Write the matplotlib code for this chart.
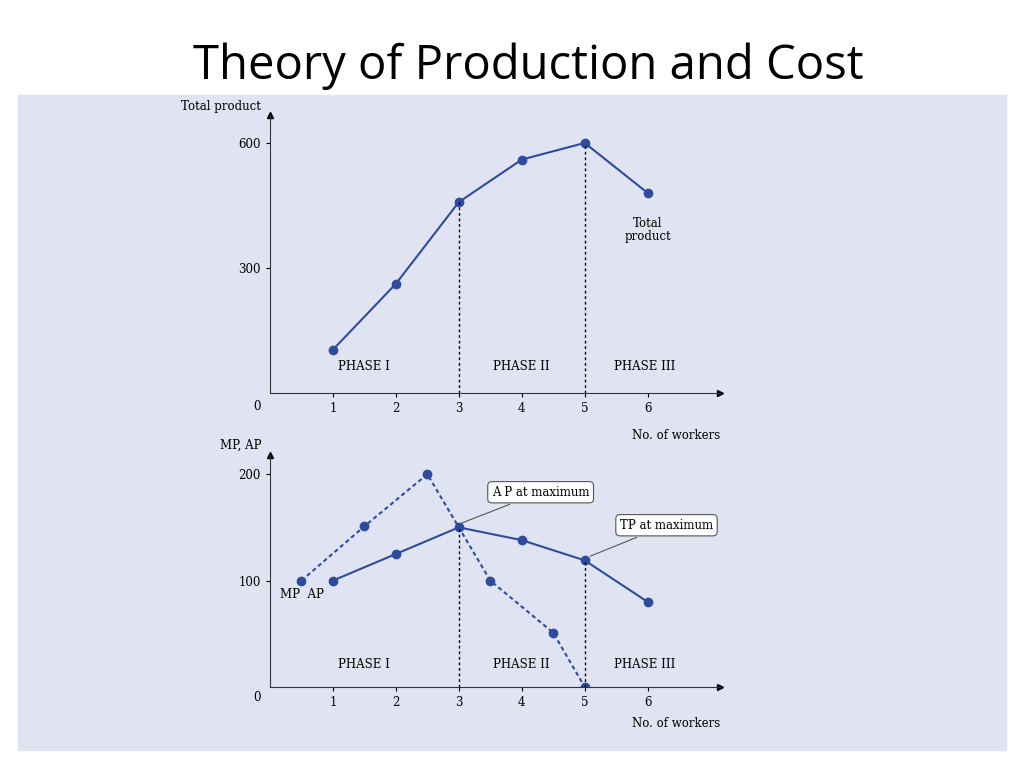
import matplotlib
matplotlib.use("Agg")
import matplotlib.pyplot as plt
from matplotlib.patches import Rectangle

workers = [1, 2, 3, 4, 5, 6]
total_product = [104, 262, 458, 560, 600, 480]
mp_x = [0.5, 1.5, 2.5, 3.5, 4.5, 5]
mp = [100, 151, 200, 100, 51, 0]
ap = [100, 125, 150, 138, 119, 80]
phases = ["PHASE I", "PHASE II", "PHASE III"]

W, H = 1024, 768
fig = plt.figure(figsize=(W/100, H/100), dpi=100)
fig.patches.append(Rectangle((18/W, 1-750/H), 988/W, 655/H, transform=fig.transFigure,
                             color="#e0e3f1", zorder=-10))
fig.text(528/W, 1-66/H, "Theory of Production and Cost", ha="center", va="center",
         fontsize=34, family="Open Sans")

col = "#2f4b9c"
fs = 8.5
ff = "DejaVu Serif"

def mkax(bottom_px, top_px, ymax):
    ax = fig.add_axes([270/W, 1-bottom_px/H, 450/W, (bottom_px-top_px)/H])
    ax.set_facecolor("none")
    ax.set_xlim(0, 7.15)
    ax.set_ylim(0, ymax)
    for s in ["top", "right"]:
        ax.spines[s].set_visible(False)
    for s in ["left", "bottom"]:
        ax.spines[s].set_color("#333333")
    ax.plot(1, 0, ">k", transform=ax.transAxes, clip_on=False, ms=5)
    ax.plot(0, 1, "^k", transform=ax.transAxes, clip_on=False, ms=5)
    ax.set_xticks(workers)
    ax.set_xticklabels([str(w) for w in workers], family=ff, fontsize=fs)
    ax.tick_params(direction="out", length=3, labelsize=fs)
    ax.text(-0.02, -0.06, "0", transform=ax.transAxes, family=ff, fontsize=fs, ha="right")
    ax.text(1.0, -0.13, "No. of workers", transform=ax.transAxes, family=ff,
            fontsize=fs, ha="right", va="top")
    return ax

ax1 = mkax(393, 115, 667)
ax1.set_yticks([300, 600])
ax1.set_yticklabels(["300", "600"], family=ff, fontsize=fs)
ax1.plot(workers, total_product, "-o", color=col, ms=6, lw=1.5)
for xv, yv in [(3, 458), (5, 600)]:
    ax1.plot([xv, xv], [0, yv], ls=(0, (2, 2)), color="black", lw=1)
ax1.text(-0.02, 1.03, "Total product", transform=ax1.transAxes, family=ff,
         fontsize=fs, ha="right", va="center")
ax1.text(6, 390, "Total\nproduct", family=ff, fontsize=fs, ha="center", va="center",
         linespacing=1.0)
for xp, lab in zip([1.5, 4.0, 5.95], phases):
    ax1.text(xp, 55, lab, family=ff, fontsize=fs, ha="center")

ax2 = mkax(687, 455, 218)
ax2.set_yticks([100, 200])
ax2.set_yticklabels(["100", "200"], family=ff, fontsize=fs)
ax2.plot(mp_x, mp, "--o", color=col, ms=6, lw=1.5, dashes=(2, 1.5))
ax2.plot(workers, ap, "-o", color=col, ms=6, lw=1.5)
for xv, yv in [(3, 150), (5, 119)]:
    ax2.plot([xv, xv], [0, yv], ls=(0, (2, 2)), color="black", lw=1)
ax2.text(-0.02, 1.04, "MP, AP", transform=ax2.transAxes, family=ff,
         fontsize=fs, ha="right", va="center")
ax2.text(0.5, 87, "MP  AP", family=ff, fontsize=fs, ha="center", va="center")
for xp, lab in zip([1.5, 4.0, 5.95], phases):
    ax2.text(xp, 18, lab, family=ff, fontsize=fs, ha="center")
bbox = dict(boxstyle="round,pad=0.35", fc="white", ec="#555555", lw=0.8)
ax2.annotate("A P at maximum", xy=(3, 153), xytext=(4.3, 183), family=ff, fontsize=fs,
             ha="center", va="center", bbox=bbox,
             arrowprops=dict(arrowstyle="-", color="#555555", lw=0.8))
ax2.annotate("TP at maximum", xy=(5.05, 122), xytext=(6.3, 152), family=ff, fontsize=fs,
             ha="center", va="center", bbox=bbox,
             arrowprops=dict(arrowstyle="-", color="#555555", lw=0.8))

fig.savefig("out.png", dpi=100)
